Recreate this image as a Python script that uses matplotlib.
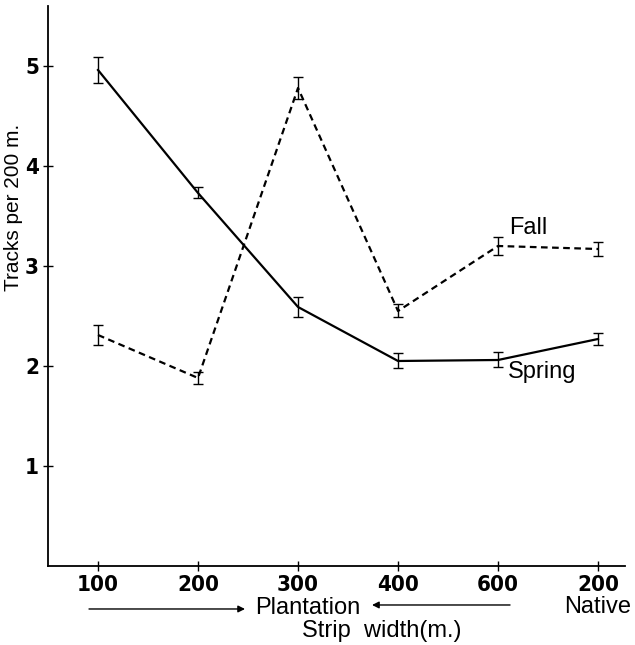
import numpy as np
import matplotlib
matplotlib.use("Agg")
import matplotlib.pyplot as plt
from matplotlib import font_manager

# strip widths (m.) on the x axis, last one is native forest
widths = ["100", "200", "300", "400", "600", "200"]
spring = [4.96, 3.73, 2.59, 2.05, 2.06, 2.27]
spring_err = [0.13, 0.055, 0.10, 0.075, 0.075, 0.06]
fall = [2.31, 1.88, 4.78, 2.55, 3.20, 3.17]
fall_err = [0.10, 0.06, 0.11, 0.065, 0.09, 0.07]
yticks = [1, 2, 3, 4, 5]

x = np.arange(len(widths))

# narrow bold digits if some condensed face is around
condensed = [f for f in font_manager.fontManager.ttflist
             if f.weight in ("bold", 700) and ("ondensed" in f.fname or "Narrow" in f.fname)]
if condensed:
    fp = font_manager.FontProperties(fname=condensed[0].fname, size=16)
else:
    fp = font_manager.FontProperties(family="Liberation Sans", weight="bold", size=13)

fig = plt.figure(figsize=(6.35, 6.45), dpi=100)
ax = fig.add_axes([0.0756, 0.1225, 0.9087, 0.8682])

ax.errorbar(x, spring, yerr=spring_err, color="black", lw=1.6,
            elinewidth=1.0, capsize=3.5, capthick=1.0)
ax.errorbar(x, fall, yerr=fall_err, color="black", lw=1.6, ls=(0, (3, 2)),
            elinewidth=1.0, capsize=3.5, capthick=1.0)

ax.set_xlim(-0.5, 5.27)
ax.set_ylim(0, 5.6)
ax.spines["top"].set_visible(False)
ax.spines["right"].set_visible(False)
ax.spines["left"].set_linewidth(1.3)
ax.spines["bottom"].set_linewidth(1.3)

ax.set_xticks(x)
ax.set_yticks(yticks)
ax.set_xticklabels(widths)
ax.set_yticklabels([str(v) for v in yticks])
for t in ax.get_xticklabels() + ax.get_yticklabels():
    t.set_fontproperties(fp)
ax.tick_params(direction="inout", length=7, width=1.0, pad=3)

ax.set_ylabel("Tracks per 200 m.", family="Liberation Sans", fontsize=15)
ax.yaxis.set_label_coords(-0.044, 0.64)

lab = {"family": "Liberation Sans", "fontsize": 17, "ha": "center", "va": "center"}
ax.text(4.30, 3.38, "Fall", **lab)
ax.text(4.44, 1.94, "Spring", **lab)
ax.text(2.10, -0.42, "Plantation", clip_on=False, **lab)
ax.text(5.0, -0.41, "Native", clip_on=False, **lab)
ax.text(2.84, -0.65, "Strip  width(m.)", clip_on=False, **lab)

arrow = dict(arrowstyle="-|>", color="black", lw=1.0, mutation_scale=10,
             shrinkA=0, shrinkB=0)
ax.annotate("", xy=(1.47, -0.43), xytext=(-0.09, -0.43),
            arrowprops=arrow, annotation_clip=False)
ax.annotate("", xy=(2.74, -0.39), xytext=(4.12, -0.39),
            arrowprops=arrow, annotation_clip=False)

fig.savefig("out.png", dpi=100)
